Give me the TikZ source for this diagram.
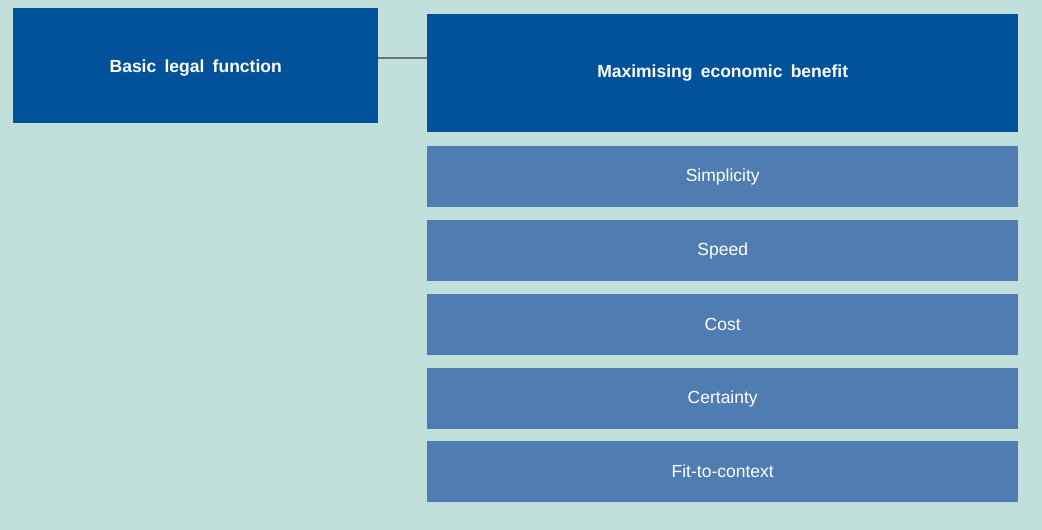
\documentclass[tikz,border=0pt]{standalone}
\usepackage{fontspec}
\setmainfont{Liberation Sans}[BoldFeatures={WordSpace=1.7}]
\definecolor{bgc}{HTML}{C1E0DC}
\definecolor{darkb}{HTML}{02529B}
\definecolor{lightb}{HTML}{4F7DB2}
\definecolor{linec}{HTML}{687876}
\tikzset{
  mainbox/.style={fill=darkb, draw=none, text=white, font=\fontsize{17.5}{20}\selectfont\bfseries, inner sep=0pt, anchor=north west},
  subbox/.style={fill=lightb, draw=none, text=white, font=\fontsize{17.5}{20}\selectfont, inner sep=0pt, anchor=north west, minimum width=591pt, minimum height=61pt},
  conn/.style={draw=linec, line width=2pt}
}
\begin{document}
\begin{tikzpicture}[x=1pt,y=-1pt]
\fill[bgc] (0,0) rectangle (1042,530);
\useasboundingbox (0,0) rectangle (1042,530);
\fill[darkb] (13,8) rectangle (378,123);
\node[mainbox, minimum width=365pt, minimum height=115pt, fill=none, text depth=-4pt] (legal) at (13,8) {Basic legal function};
\node[mainbox, minimum width=591pt, minimum height=118pt] (econ) at (427,14) {Maximising economic benefit};
\node[subbox] (s1) at (427,146) {Simplicity};
\node[subbox] (s2) at (427,220) {Speed};
\node[subbox] (s3) at (427,294) {Cost};
\node[subbox] (s4) at (427,368) {Certainty};
\node[subbox] (s5) at (427,441) {Fit-to-context};
\coordinate (c1) at (legal.east |- 0,58);
\coordinate (c2) at (econ.west |- 0,58);
\draw[conn] (c1) -- (c2);
\end{tikzpicture}
\end{document}
